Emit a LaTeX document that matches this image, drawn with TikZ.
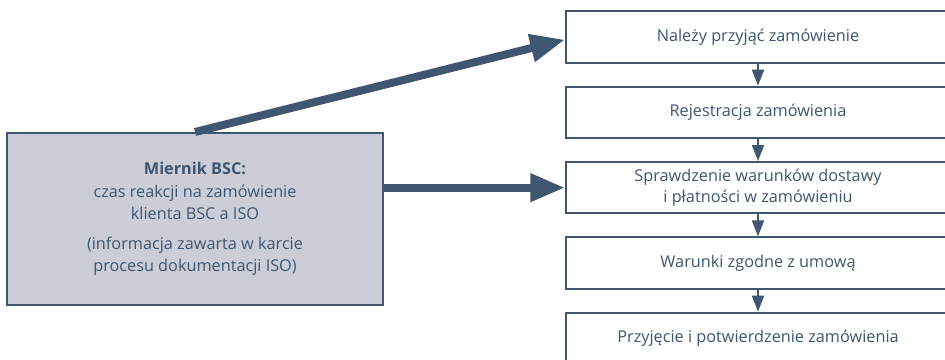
\documentclass[tikz,border=0pt]{standalone}
\usepackage{fontspec}
\setmainfont{Open Sans}
\usepackage{tikz}
\usetikzlibrary{arrows.meta,positioning}
\definecolor{slate}{HTML}{3F5670}
\definecolor{panel}{HTML}{CBCED8}
\tikzset{
  krok/.style={draw=slate, line width=1.5pt, fill=white, text=slate, minimum width=288pt, minimum height=38.5pt, inner sep=0pt, align=center, font=\fontsize{12.2}{16}\selectfont},
  miernik/.style={draw=slate, line width=1.5pt, fill=panel, text=slate, minimum width=282pt, minimum height=129pt, align=center, font=\fontsize{12.2}{17}\selectfont},
  gruba/.style={draw=slate, line width=6pt, -{Triangle[length=26pt, width=20pt]}},
  cienka/.style={draw=slate, line width=1.5pt, -{Triangle[length=12pt, width=9pt]}},
}
\begin{document}
\begin{tikzpicture}[x=0.75pt, y=-0.75pt, node distance=16.5pt]
\useasboundingbox (0,0) rectangle (945,360);
% etapy procesu
\node[krok] (przyj) at (758,37) {Należy przyjąć zamówienie};
\node[krok, below=of przyj] (rej) {Rejestracja zamówienia};
\node[krok, below=of rej] (spr) {Sprawdzenie warunków dostawy\\i płatności w zamówieniu};
\node[krok, below=of spr] (war) {Warunki zgodne z umową};
\node[krok, below=of war] (potw) {Przyjęcie i potwierdzenie zamówienia};
\draw[cienka] (przyj) -- (rej);
\draw[cienka] (rej) -- (spr);
\draw[cienka] (spr) -- (war);
\draw[cienka] (war) -- (potw);
% miernik
\node[miernik] (bsc) at (195,219) {\textbf{Miernik BSC:}\\czas reakcji na zamówienie\\klienta BSC a ISO\\[5pt](informacja zawarta w karcie\\procesu dokumentacji ISO)};
\draw[gruba] (bsc.north) -- ([yshift=-2pt]przyj.west);
\draw[gruba] (bsc.east |- spr.west) -- (spr.west);
\end{tikzpicture}
\end{document}
